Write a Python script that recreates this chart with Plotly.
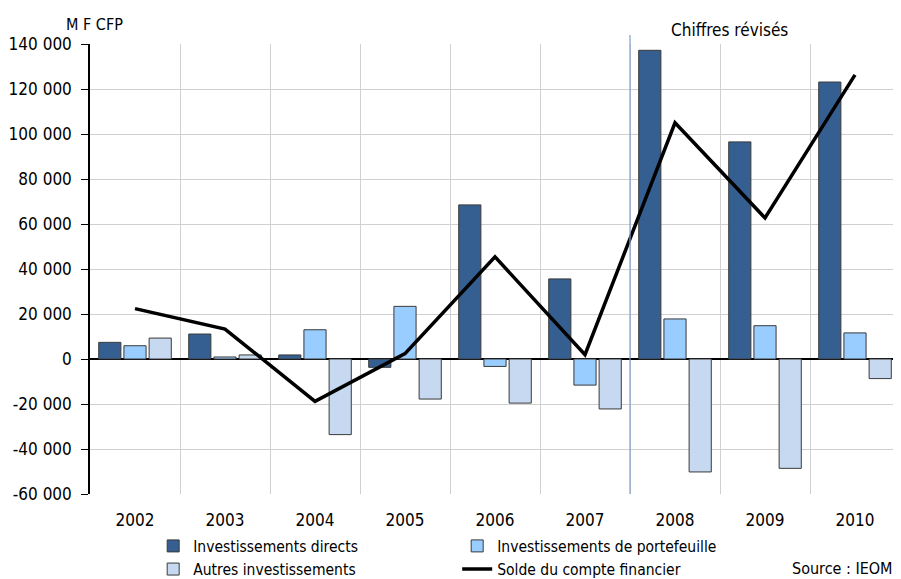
import plotly.graph_objects as go

years = ["2002", "2003", "2004", "2005", "2006", "2007", "2008", "2009", "2010"]
directs = [7400, 11100, 1800, -3700, 68500, 35600, 137200, 96500, 123100]
portefeuille = [5900, 900, 13000, 23400, -3300, -11600, 17800, 14800, 11600]
autres = [9300, 1800, -33600, -17800, -19600, -22200, -50200, -48600, -8700]
solde = [22400, 13300, -18800, 2400, 45400, 1900, 105000, 62700, 126300]

ytick_vals = [-60000, -40000, -20000, 0, 20000, 40000, 60000, 80000, 100000, 120000, 140000]
ytick_text = ["-60 000", "-40 000", "-20 000", "0", "20 000", "40 000", "60 000",
              "80 000", "100 000", "120 000", "140 000"]

FONT = "'Liberation Sans Narrow', 'DejaVu Sans Condensed', Tahoma, sans-serif"
OUT = "#3a3a3a"

fig = go.Figure()
fig.add_bar(x=years, y=directs, name="Investissements directs",
            marker=dict(color="#365F91", line=dict(color=OUT, width=1)))
fig.add_bar(x=years, y=portefeuille, name="Investissements de portefeuille",
            marker=dict(color="#99CCFF", line=dict(color=OUT, width=1)))
fig.add_bar(x=years, y=autres, name="Autres investissements",
            marker=dict(color="#C6D9F0", line=dict(color=OUT, width=1)))
fig.add_scatter(x=years, y=solde, name="Solde du compte financier", mode="lines",
                line=dict(color="black", width=3.5))

fig.add_shape(type="line", xref="x", yref="paper", x0=5.5, x1=5.5, y0=0, y1=1.02,
              line=dict(color="#7F9FCF", width=1.2))

fig.add_annotation(text="Chiffres révisés", xref="paper", yref="paper", x=0.789, y=1.031,
                   showarrow=False, font=dict(size=17, color="black"), xanchor="center", yanchor="middle")
fig.add_annotation(text="M F CFP", xref="paper", yref="paper", x=0.006, y=1.043,
                   showarrow=False, font=dict(size=16, color="black"), xanchor="center", yanchor="middle")
fig.add_annotation(text="Source : IEOM", xref="paper", yref="paper", x=0.993, y=-0.166,
                   showarrow=False, font=dict(size=16, color="black"), xanchor="right", yanchor="middle")

fig.update_layout(
    width=893, height=571,
    margin=dict(l=82, r=1, t=36, b=85, autoexpand=False),
    plot_bgcolor="white", paper_bgcolor="white",
    font=dict(family=FONT, size=16, color="black"),
    barmode="group", bargap=0.16, bargroupgap=0.12,
    showlegend=True,
    legend=dict(orientation="h", x=0.078, xanchor="left",
                yref="container", y=0.087, yanchor="top",
                entrywidth=259, entrywidthmode="pixels", font=dict(size=15.5),
                traceorder="normal", itemwidth=30, tracegroupgap=0),
)
fig.update_xaxes(type="category", tickson="boundaries", showgrid=True, gridcolor="#D0D0D0",
                 gridwidth=1, ticks="", ticklabelstandoff=14, automargin=False,
                 showline=False, tickfont=dict(size=17), range=[-0.5, 8.5])
fig.update_yaxes(range=[-60000, 140000], tickvals=ytick_vals, ticktext=ytick_text,
                 showgrid=True, gridcolor="#D0D0D0", gridwidth=1, automargin=False,
                 showline=True, linecolor="black", linewidth=1.5,
                 ticks="outside", ticklen=7, tickcolor="black", ticklabelstandoff=6,
                 zeroline=True, zerolinecolor="black", zerolinewidth=1.5,
                 tickfont=dict(size=17))

fig.write_html("out.html")
